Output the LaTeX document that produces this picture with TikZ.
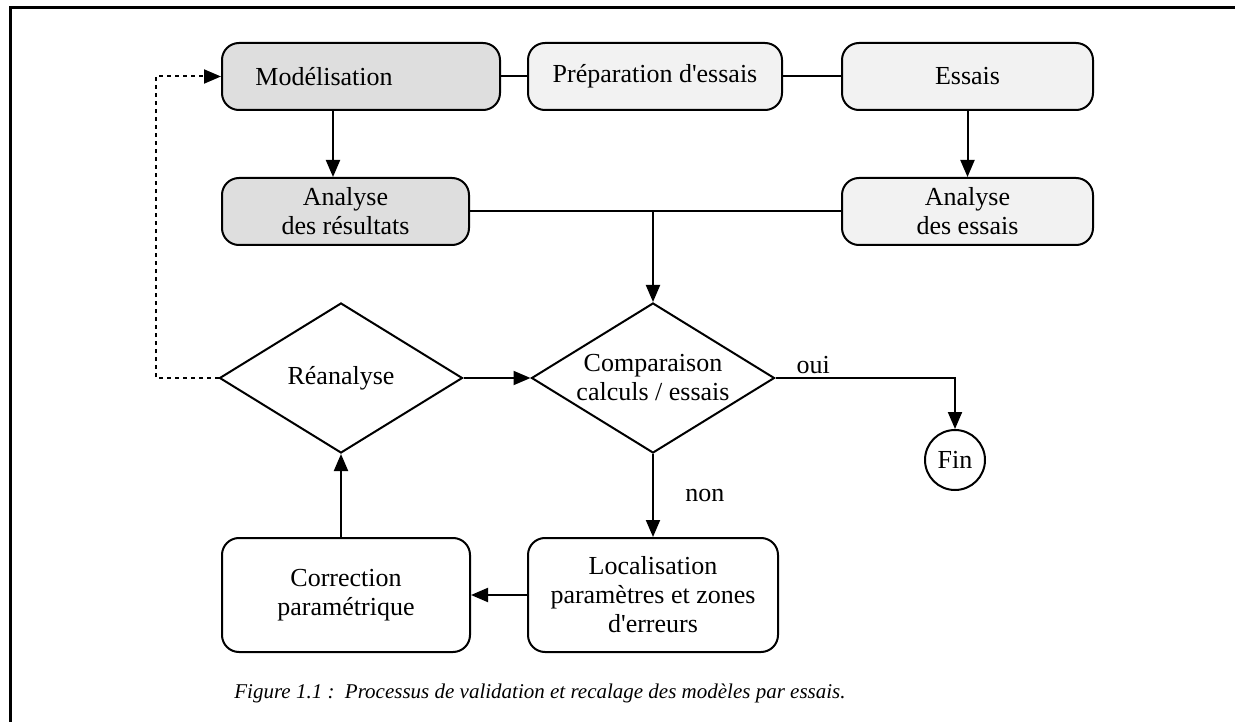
\documentclass[tikz,border=0pt]{standalone}
\usepackage{fontspec}
\setmainfont{Liberation Serif}[Ligatures=TeXOff]
\usetikzlibrary{shapes.geometric,arrows.meta,positioning}
\definecolor{boxdark}{HTML}{DEDEDE}
\definecolor{boxlight}{HTML}{F2F2F2}

\begin{document}
\begin{tikzpicture}[x=1pt, y=-1pt,
  every node/.style={font=\fontsize{26}{29}\selectfont},
  box/.style={draw, line width=2pt, rounded corners=17pt, align=center, inner sep=0pt},
  darkbox/.style={box, fill=boxdark},
  lightbox/.style={box, fill=boxlight},
  decision/.style={draw, diamond, line width=2pt, minimum width=243pt, minimum height=150pt, inner sep=0pt},
  wire/.style={line width=2pt},
  arr/.style={wire, -{Triangle[length=17pt, width=14pt]}},
  loopback/.style={arr, dash pattern=on 4pt off 4pt}]
  \useasboundingbox (0,0) rectangle (1235,722);
  % frame (left and top edges only)
  \draw[line width=3pt] (10,722) -- (10,8) -- (1235,8);
  % top row
  \node[darkbox, minimum width=278pt, minimum height=67pt] (modl) at (361,76.5) {Modélisation\hspace*{74pt}};
  \node[lightbox, minimum width=254pt, minimum height=67pt] (prep) at (655,76.5) {Préparation d'essais};
  \node[lightbox, minimum width=251pt, minimum height=67pt] (ess) at (967.5,76.5) {Essais};
  % analysis row
  \node[darkbox, minimum width=247pt, minimum height=67pt] (anres) at (345.5,211.5) {Analyse\\des résultats};
  \node[lightbox, minimum width=251pt, minimum height=67pt] (anes) at (967.5,211.5) {Analyse\\des essais};
  % decisions
  \node[decision] (rean) at (341,378) {Réanalyse};
  \node[decision] (comp) at (653,378) {};
  \node[align=center] (comptext) at (comp) {Comparaison\\calculs / essais};
  \node[circle, draw, wire, minimum size=60pt, inner sep=0pt] (fin) at (955,460) {Fin};
  % bottom row
  \node[box, minimum width=250pt, minimum height=114pt] (loc) at (653,595) {Localisation\\paramètres et zones\\d'erreurs};
  \node[box, minimum width=248pt, minimum height=114pt] (corr) at (346,595) {Correction\\paramétrique};
  % connectors
  \draw[wire] (modl.east) -- (prep.west);
  \draw[wire] (prep.east) -- (ess.west);
  \draw[arr] ([xshift=-28pt]modl.south) -- ([xshift=-28pt]modl.south |- anres.north);
  \draw[arr] (ess.south) -- (anes.north);
  \draw[wire] (anres.east) -- (anes.west);
  \draw[arr] (anres.east -| comp.north) -- (comp.north);
  \draw[arr] (rean.east) -- (comp.west);
  \draw[arr] (comp.east) -- node[above, pos=0.21] {oui} (comp.east -| fin.north) -- (fin.north);
  \draw[arr] (comp.south) -- node[right, xshift=28pt] {non} (loc.north);
  \draw[arr] (loc.west) -- (corr.east);
  \draw[arr] (corr.north -| rean.south) -- (rean.south);
  % dotted loop back to the model
  \draw[loopback] (rean.west) -- ++(-63,0) |- (modl.west);
  % caption
  \node (caption) at (540,693) {\fontsize{21}{25}\selectfont\itshape Figure 1.1 :\ \ Processus de validation et recalage des modèles par essais.};
\end{tikzpicture}
\end{document}
